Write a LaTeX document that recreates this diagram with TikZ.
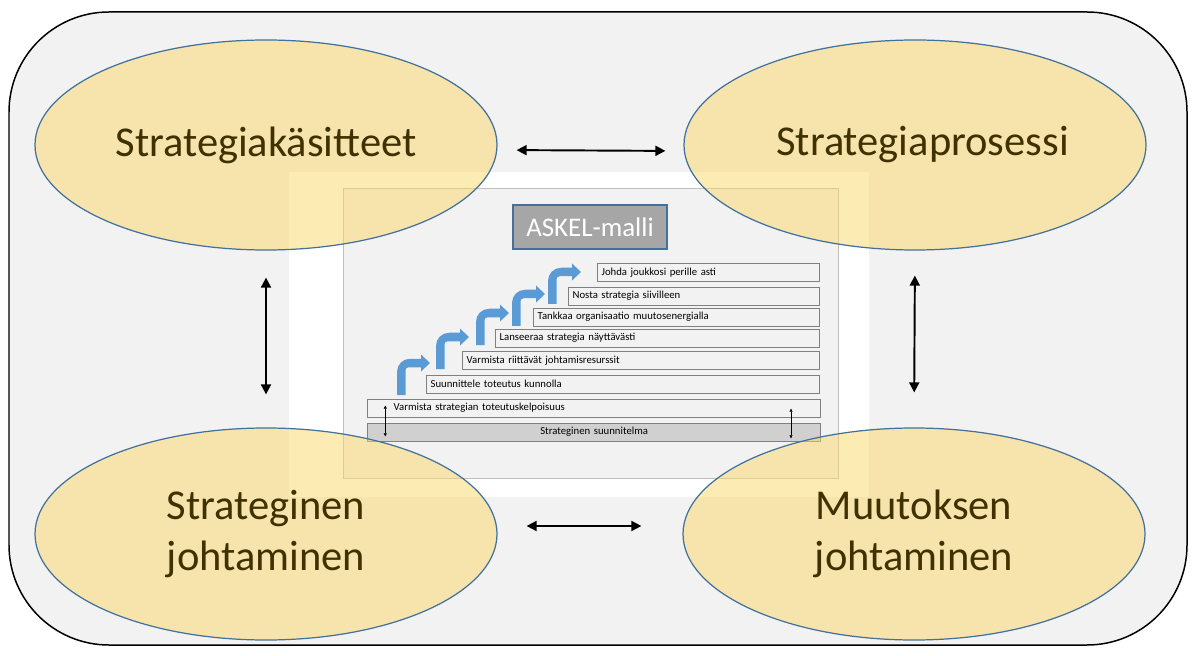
\documentclass[tikz,border=0pt]{standalone}
\usepackage{fontspec}
\setmainfont{Carlito}
\usetikzlibrary{shapes.geometric,arrows.meta}

\definecolor{taustaharmaa}{RGB}{242,242,242}
\definecolor{keltainen}{RGB}{250,216,104}
\definecolor{reunasini}{RGB}{65,113,156}
\definecolor{ruskea}{RGB}{64,49,0}
\definecolor{nuolisini}{RGB}{91,155,213}
\definecolor{otsikkoharmaa}{RGB}{166,166,166}
\definecolor{pohjaharmaa}{RGB}{208,208,208}
\definecolor{kehysharmaa}{RGB}{191,191,191}

\tikzset{
  alue/.style={ellipse, draw=reunasini, line width=0.7pt, fill=keltainen, fill opacity=0.5, text opacity=1,
    text=ruskea, minimum width=9.24cm, minimum height=4.2cm, inner sep=0pt, align=center,
    font=\fontsize{24.2}{29}\selectfont},
  porras/.style={draw=gray, fill=taustaharmaa, minimum height=0.36cm, inner xsep=0.08cm, inner ysep=0pt,
    align=left, anchor=east, font=\fontsize{6.1}{7}\selectfont},
  yhteys/.style={{Triangle[length=0.2cm,width=0.2cm]}-{Triangle[length=0.2cm,width=0.2cm]}, line width=1.1pt},
  pikkunuoli/.style={{Triangle[length=0.06cm,width=0.06cm]}-{Triangle[length=0.06cm,width=0.06cm]}, line width=0.3pt},
}

% sininen porrasnuoli, origo varren alakulmassa
\newcommand{\kaarinuoli}[2]{%
  \fill[nuolisini, shift={(#1,#2)}] (0,0) -- (0,0.465)
    .. controls (0,0.609) and (0.117,0.725) .. (0.26,0.725)
    -- (0.48,0.725) -- (0.48,0.81) -- (0.66,0.64) -- (0.48,0.47) -- (0.48,0.555)
    -- (0.23,0.555) .. controls (0.197,0.555) and (0.17,0.528) .. (0.17,0.495)
    -- (0.17,0) -- cycle;}

\begin{document}
\begin{tikzpicture}
	\useasboundingbox (0,0) rectangle (23.88,13.1);
	\draw[rounded corners=2cm, fill=taustaharmaa, line width=0.85pt] (0.18,0.2) rectangle (23.74,12.86);

	% ASKEL-malli
	\fill[white] (5.78,3.16) rectangle (17.38,9.66);
	\draw[kehysharmaa, fill=taustaharmaa, line width=0.4pt] (6.86,3.54) rectangle (16.76,9.34);
	\node[draw=reunasini, line width=0.8pt, fill=otsikkoharmaa, text=white, minimum width=3.08cm, minimum height=0.88cm,
		font=\fontsize{15.3}{18}\selectfont] (askel) at (11.8,8.56) {ASKEL-malli};

	\node[porras, text width=4.28cm] (johda) at (16.4,7.65) {Johda joukkosi perille asti};
	\node[porras, text width=4.86cm] (nosta) at (16.4,7.18) {Nosta strategia siivilleen};
	\node[porras, text width=5.56cm] (tankkaa) at (16.4,6.76) {Tankkaa organisaatio muutosenergialla};
	\node[porras, text width=6.32cm] (lanseeraa) at (16.4,6.34) {Lanseeraa strategia näyttävästi};
	\node[porras, text width=6.98cm] (resurssit) at (16.4,5.89) {Varmista riittävät johtamisresurssit};
	\node[porras, text width=7.70cm] (suunnittele) at (16.4,5.42) {Suunnittele toteutus kunnolla};
	\node[porras, text width=8.90cm] (toteutus) at (16.42,4.94) {\hspace*{0.44cm}Varmista strategian toteutuskelpoisuus};
	\node[porras, fill=pohjaharmaa, align=center, text width=8.90cm] (suunnitelma) at (16.42,4.46) {Strateginen suunnitelma};

	\draw[pikkunuoli] ([xshift=0.36cm,yshift=-0.14cm]toteutus.north west) -- ([xshift=0.36cm,yshift=0.1cm]suunnitelma.south west);
	\draw[pikkunuoli] ([xshift=-0.6cm,yshift=-0.2cm]toteutus.north east) -- ([xshift=-0.6cm,yshift=0.06cm]suunnitelma.south east);

	\kaarinuoli{7.94}{5.20}
	\kaarinuoli{8.72}{5.72}
	\kaarinuoli{9.52}{6.20}
	\kaarinuoli{10.24}{6.58}
	\kaarinuoli{10.96}{7.02}

	% neljä aluetta
	\node[alue] (ska) at (5.32,10.2) {Strategiakäsitteet};
	\node[alue] (spr) at (18.30,10.2) {\hspace*{0.3cm}Strategiaprosessi};
	\node[alue, minimum height=4.24cm] (sjo) at (5.32,2.42) {Strateginen\\johtaminen};
	\node[alue, minimum height=4.24cm] (mjo) at (18.28,2.42) {Muutoksen\\johtaminen};

	\draw[yhteys, shorten <=0.38cm, shorten >=0.36cm] ([yshift=-0.1cm]ska.east) -- ([yshift=-0.12cm]spr.west);
	\draw[yhteys, shorten <=0.58cm, shorten >=0.82cm] ([yshift=0.16cm]sjo.east) -- ([yshift=0.16cm]mjo.west);
	\draw[yhteys, shorten <=0.54cm, shorten >=0.66cm] (ska.south) -- (sjo.north);
	\draw[yhteys, shorten <=0.5cm, shorten >=0.7cm] (spr.south) -- (mjo.north);
\end{tikzpicture}
\end{document}
